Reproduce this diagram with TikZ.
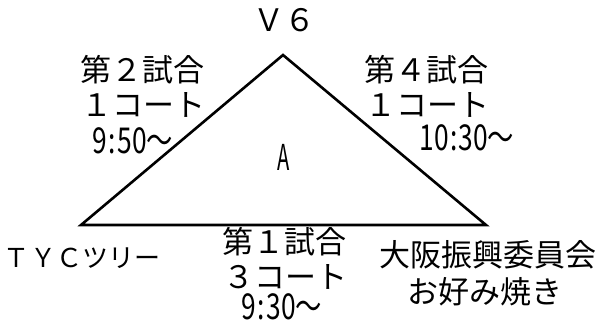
\documentclass[tikz,border=0pt]{standalone}
\usepackage{fontspec}
\setmainfont{Noto Sans CJK JP}
\newcommand{\tmcolon}{\kern1.5pt:\kern1.5pt}
\begin{document}
\begin{tikzpicture}[x=1pt,y=-1pt,
  lbl/.style={inner sep=0pt,anchor=center,font=\fontsize{31}{31}\selectfont},
  small/.style={inner sep=0pt,anchor=center,font=\fontsize{26}{26}\selectfont},
  tm/.style={inner sep=0pt,anchor=center,font=\fontsize{31}{31}\selectfont},
  edge/.style={line width=2.6pt}]
\useasboundingbox (0,0) rectangle (601,327);
\coordinate (top) at (283,55);
\coordinate (bl) at (81,225);
\coordinate (br) at (486,225);
\draw[edge] (top) -- (bl) -- (br) -- cycle;
\node[lbl] (v6) at (284,20) {Ｖ６};
\node[lbl] (l1) at (142,70) {第２試合};
\node[lbl] (l2) at (143,105) {１コート};
\node[tm] (l3) at (133,141) {\scalebox{0.85}[1.15]{9\tmcolon50～}};
\node[lbl] (r1) at (426,70) {第４試合};
\node[lbl] (r2) at (427,105) {１コート};
\node[tm] (r3) at (467,138) {\scalebox{0.85}[1.15]{10\tmcolon30～}};
\node[tm] (a) at (284,157) {\scalebox{0.65}[1.15]{A}};
\node[lbl] (b1) at (284,242) {第１試合};
\node[lbl] (b2) at (285,277) {３コート};
\node[tm] (b3) at (282,307) {\scalebox{0.85}[1.15]{9\tmcolon30～}};
\node[small] (tyc) at (82,258) {ＴＹＣツリー};
\node[lbl] (o1) at (488,255) {大阪振興委員会};
\node[lbl] (o2) at (485,292) {お好み焼き};
\end{tikzpicture}
\end{document}
